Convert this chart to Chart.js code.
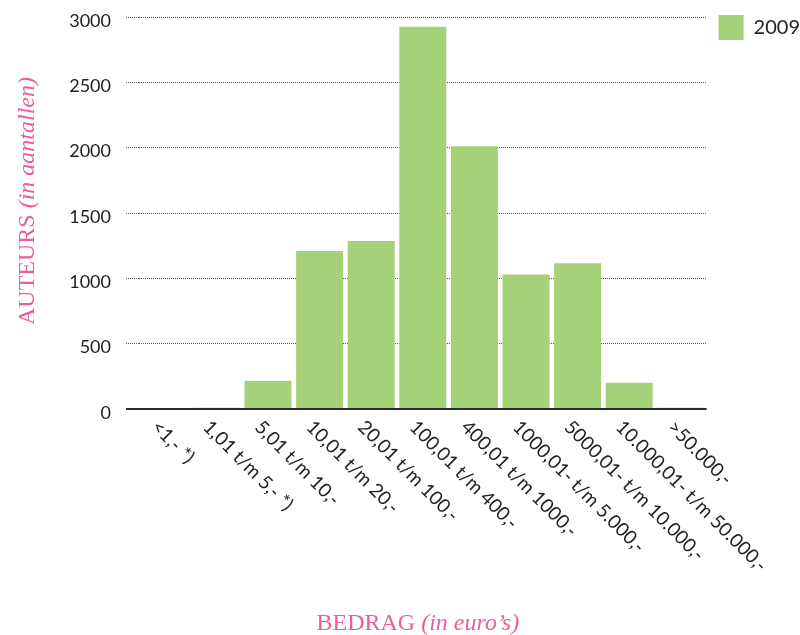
<!DOCTYPE html>
<html>
<head>
<meta charset="utf-8">
<script src="https://cdn.jsdelivr.net/npm/chart.js"></script>
<style>
  html, body { margin: 0; padding: 0; background: #fff; }
  #wrap { width: 800px; height: 635px; }
</style>
</head>
<body>
<div id="wrap"><canvas id="canvas"></canvas></div>
<script>
const categories = ['<1,- *)', '1,01 t/m 5,- *)', '5,01 t/m 10,-', '10,01 t/m 20,-', '20,01 t/m 100,-',
  '100,01 t/m 400,-', '400,01 t/m 1000,-', '1000,01- t/m 5.000,-', '5000,01- t/m 10.000,-',
  '10.000,01- t/m 50.000,-', '>50.000,-'];
const values2009 = [0, 10, 215, 1210, 1285, 2925, 2010, 1030, 1115, 200, 10];
const yTicks = [0, 500, 1000, 1500, 2000, 2500, 3000];
const seriesLabel = '2009';
const yTitle = ['AUTEURS ', '(in aantallen)'];
const xTitle = ['BEDRAG ', '(in euro’s)'];

const pink = '#ea5d9e';
const green = '#a5d178';
const ink = '#222';

let ctx = document.getElementById('canvas').getContext('2d');

const isZero = c => c.tick && c.tick.value === 0;

// writes a title made of a plain part and an italic part, centred on (cx, cy)
function drawMixed(c, parts, cx, cy) {
  const fonts = ['24px "Liberation Serif"', 'italic 24px "Liberation Serif"'];
  let total = 0;
  const widths = parts.map((p, i) => {
    c.font = fonts[i];
    const w = c.measureText(p).width;
    total += w;
    return w;
  });
  let x = cx - total / 2;
  parts.forEach((p, i) => {
    c.font = fonts[i];
    c.fillText(p, x, cy);
    x += widths[i];
  });
}

const axisTitles = {
  id: 'axisTitles',
  afterDraw(chart) {
    const c = chart.ctx, a = chart.chartArea;
    c.save();
    c.fillStyle = pink;
    c.textAlign = 'left';
    c.textBaseline = 'alphabetic';
    c.translate(34, (a.top + a.bottom) / 2 - 12);
    c.rotate(-Math.PI / 2);
    drawMixed(c, yTitle, 0, 0);
    c.restore();

    c.save();
    c.fillStyle = pink;
    c.textAlign = 'left';
    c.textBaseline = 'alphabetic';
    drawMixed(c, xTitle, (a.left + a.right) / 2 - 5, 630);
    c.restore();
  }
};

// category labels slant down to the right, starting under each bar
const slantedLabels = {
  id: 'slantedLabels',
  afterDraw(chart) {
    const xs = chart.scales.x, c = chart.ctx, bottom = chart.chartArea.bottom;
    c.save();
    c.font = '19px Lato';
    c.fillStyle = ink;
    c.textAlign = 'left';
    c.textBaseline = 'middle';
    categories.forEach((lab, i) => {
      c.save();
      c.translate(xs.getPixelForValue(i) - 10, bottom + 15);
      c.rotate(Math.PI / 4);
      c.fillText(lab, 0, 0);
      c.restore();
    });
    c.restore();
  }
};

const legendPlace = {
  id: 'legendPlace',
  afterLayout(chart) {
    chart.legend.left = chart.chartArea.right + 10;
    chart.legend.top = 13;
  }
};

const data = {
  labels: categories,
  datasets: [{
    label: seriesLabel,
    data: values2009,
    backgroundColor: green,
    borderWidth: 0,
    barPercentage: 0.91,
    categoryPercentage: 1
  }]
};

const options = {
  responsive: true,
  maintainAspectRatio: false,
  animation: false,
  layout: {
    padding: { top: 17, right: 0, bottom: 0, left: 0 }
  },
  plugins: {
    legend: {
      display: true,
      position: 'right',
      align: 'start',
      labels: {
        boxWidth: 25,
        boxHeight: 25,
        padding: 2,
        color: ink,
        font: { family: 'Lato', size: 20 }
      }
    },
    tooltip: { enabled: false }
  },
  scales: {
    x: {
      grid: { display: false },
      border: { display: false },
      ticks: { display: false },
      afterFit: s => { s.height = 226; }
    },
    y: {
      min: 0,
      max: 3000,
      afterBuildTicks: s => { s.ticks = yTicks.map(v => ({ value: v })); },
      afterFit: s => { s.width = 139; s.paddingTop = 10; },
      grid: {
        color: c => isZero(c) ? '#2a2a2a' : '#555',
        lineWidth: c => isZero(c) ? 2 : 1,
        drawTicks: true,
        tickLength: 13,
        tickBorderDash: c => isZero(c) ? [] : [1, 1]
      },
      border: {
        display: false,
        dash: c => isZero(c) ? [] : [1, 1]
      },
      ticks: {
        padding: 15,
        labelOffset: 4,
        color: ink,
        font: { family: 'Lato', size: 18 },
        callback: v => String(v)
      }
    }
  }
};

new Chart(ctx, {
  type: 'bar',
  data: data,
  options: options,
  plugins: [axisTitles, slantedLabels, legendPlace]
});
</script>
</body>
</html>
